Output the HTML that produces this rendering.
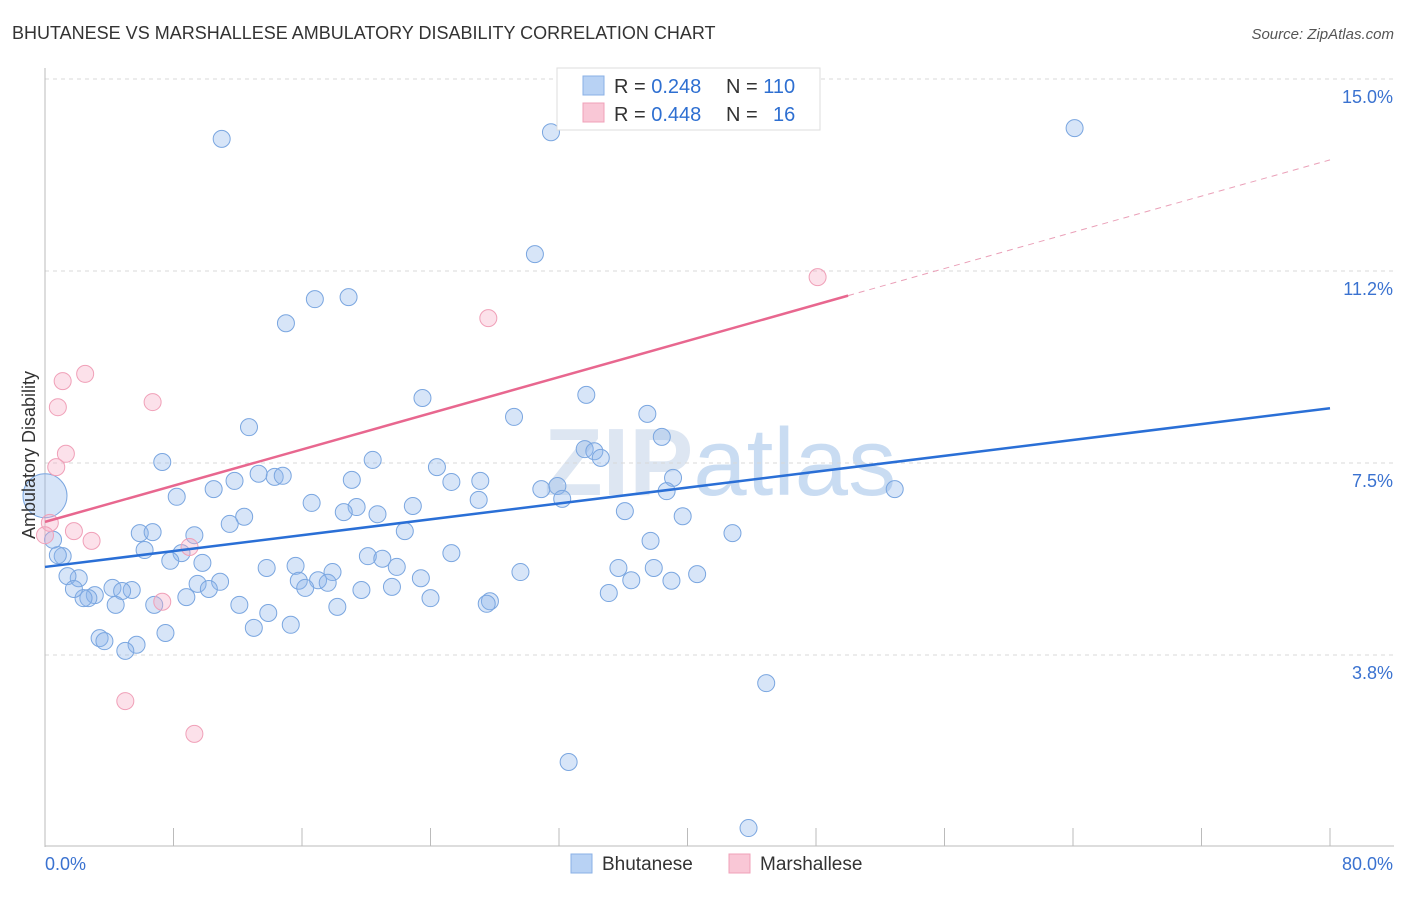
<!DOCTYPE html>
<html><head><meta charset="utf-8"><style>
body{margin:0;background:#fff;font-family:"Liberation Sans",sans-serif;}
svg text{font-family:"Liberation Sans",sans-serif;}
</style></head><body>
<svg id="chart" width="1406" height="892" xmlns="http://www.w3.org/2000/svg">
<text x="12" y="39" font-size="18" fill="#333">BHUTANESE VS MARSHALLESE AMBULATORY DISABILITY CORRELATION CHART</text>
<text x="1394" y="39" font-size="15" fill="#555" text-anchor="end" font-style="italic">Source: ZipAtlas.com</text>
<text x="720" y="495" font-size="96" fill="#dde6f2" text-anchor="middle" font-weight="bold">ZIP<tspan font-weight="normal" fill="#c9dcf2">atlas</tspan></text>
<g id="grid"></g>
<g id="axes"></g>
<g id="pts"></g>
<g id="lines"></g>
<text transform="translate(35,455) rotate(-90)" font-size="18" fill="#333" text-anchor="middle">Ambulatory Disability</text>
<g>
<rect x="557" y="68" width="263" height="62" fill="#fff" stroke="#ddd"/>
<rect x="583" y="76" width="21" height="19" fill="#b8d2f4" stroke="#8ab0e6"/>
<rect x="583" y="103" width="21" height="19" fill="#f9c7d6" stroke="#f0a0b8"/>
<text x="614" y="93" font-size="20" fill="#333">R = <tspan fill="#2e6fd1">0.248</tspan><tspan x="726">N = </tspan><tspan fill="#2e6fd1">110</tspan></text>
<text x="614" y="121" font-size="20" fill="#333">R = <tspan fill="#2e6fd1">0.448</tspan><tspan x="726">N = </tspan><tspan x="773" fill="#2e6fd1">16</tspan></text>
</g>
<g>
<rect x="571" y="854" width="21" height="19" fill="#b8d2f4" stroke="#8ab0e6"/>
<text x="602" y="870" font-size="19" fill="#333">Bhutanese</text>
<rect x="729" y="854" width="21" height="19" fill="#f9c7d6" stroke="#f0a0b8"/>
<text x="760" y="870" font-size="19" fill="#333">Marshallese</text>
</g>
</svg>
<script>
const yTicks=[3.75,7.5,11.25,15];
const yTickLabels=["3.8%","7.5%","11.2%","15.0%"];
const xTicks=[0,8,16,24,32,40,48,56,64,72,80];
const xEndLabels=["0.0%","80.0%"];
const blueX=[11.0,31.5,64.1,30.5,16.8,18.9,15.0,23.5,33.7,29.2,37.5,12.7,38.4,33.6,34.2,34.6,7.3,20.4,24.4,13.3,14.3,14.8,11.8,19.1,25.3,27.1,39.1,10.5,8.2,30.9,31.9,38.7,32.2,52.9,16.6,27.0,22.9,19.4,18.6,20.7,12.4,11.5,36.1,39.7,22.4,5.9,6.7,9.3,42.8,37.7,6.2,8.5,7.8,9.8,20.1,25.3,21.0,21.9,15.6,13.8,35.7,37.9,17.9,29.6,40.6,23.4,15.8,17.0,17.6,10.9,9.5,4.2,5.4,4.8,10.2,16.2,19.7,21.6,36.5,39.0,8.8,24.0,35.1,27.7,27.5,3.1,2.7,2.4,12.1,6.8,18.2,4.4,13.9,15.3,13.0,7.5,3.4,3.7,5.7,5.0,44.9,32.6,43.8,2.1,1.4,1.8,1.1,0.8,0.5,0];
const blueY=[13.83,13.96,14.04,11.58,10.70,10.74,10.23,8.77,8.83,8.40,8.46,8.20,8.01,7.77,7.73,7.60,7.52,7.56,7.42,7.29,7.23,7.25,7.15,7.17,7.13,7.15,7.21,6.99,6.84,6.99,7.05,6.95,6.80,6.99,6.72,6.78,6.66,6.64,6.54,6.50,6.45,6.31,6.56,6.46,6.17,6.13,6.15,6.09,6.13,5.98,5.80,5.74,5.59,5.55,5.68,5.74,5.63,5.47,5.49,5.45,5.45,5.45,5.37,5.37,5.33,5.25,5.20,5.21,5.16,5.18,5.14,5.06,5.02,5.00,5.04,5.06,5.02,5.08,5.21,5.20,4.88,4.86,4.96,4.80,4.75,4.92,4.86,4.86,4.73,4.73,4.69,4.73,4.57,4.34,4.28,4.18,4.08,4.02,3.95,3.83,3.20,1.66,0.37,5.25,5.29,5.04,5.68,5.70,6.00,6.86];
const blueSize=[];for(let i=0;i<blueX.length;i++)blueSize.push(i===blueX.length-1?22:8.5);
const pinkX=[48.1,27.6,2.5,1.1,6.7,0.8,1.3,0.7,0.3,1.8,2.9,9.0,7.3,5.0,9.3,0];
const pinkY=[11.13,10.33,9.24,9.10,8.69,8.59,7.68,7.42,6.33,6.17,5.98,5.86,4.79,2.85,2.21,6.09];
const blueTrend=[5.47,8.57];
const pinkTrend=[6.35,13.42];
const pinkSolidEnd=50;
const X=v=>45+v/80*1285, Y=v=>847-v/15*768;
const NS="http://www.w3.org/2000/svg";
function mk(tag,attrs,parent){const e=document.createElementNS(NS,tag);for(const k in attrs)e.setAttribute(k,attrs[k]);document.getElementById(parent).appendChild(e);return e;}
yTicks.forEach((t,i)=>{
 const g=mk('line',{x1:45,x2:1394,y1:Y(t),y2:Y(t),stroke:'#d8d8d8','stroke-dasharray':'4,4'},'grid');
 
 
 const l=mk('text',{x:1393,y:Y(t)+24,'font-size':18,fill:'#3a72d0','text-anchor':'end'},'axes');l.textContent=yTickLabels[i];
 
 
});
const ax=mk('line',{x1:45,x2:45,y1:68,y2:847,stroke:'#bbb'},'axes');


const bx=mk('line',{x1:45,x2:1394,y1:846,y2:846,stroke:'#bbb'},'axes');


xTicks.forEach(t=>{const k=mk('line',{x1:X(t),x2:X(t),y1:828,y2:846,stroke:'#bbb'},'axes');
 
 });
const l0=mk('text',{x:45,y:870,'font-size':18,fill:'#3a72d0'},'axes');l0.textContent=xEndLabels[0];


const l1=mk('text',{x:1393,y:870,'font-size':18,fill:'#3a72d0','text-anchor':'end'},'axes');l1.textContent=xEndLabels[1];


blueX.forEach((x,i)=>{const c=mk('circle',{cx:X(x),cy:Y(blueY[i]),r:blueSize[i],fill:'rgba(140,180,235,0.35)',stroke:'#7aa6e0','stroke-width':1},'pts');
 
 });
pinkX.forEach((x,i)=>{const c=mk('circle',{cx:X(x),cy:Y(pinkY[i]),r:8.5,fill:'rgba(245,170,195,0.35)',stroke:'#f0a0b8','stroke-width':1},'pts');
 
 });
const bl=mk('line',{x1:X(0),y1:Y(blueTrend[0]),x2:X(80),y2:Y(blueTrend[1]),stroke:'#2a6fd6','stroke-width':2.5},'lines');


const py=x=>pinkTrend[0]+(pinkTrend[1]-pinkTrend[0])*x/80;
const pl=mk('line',{x1:X(0),y1:Y(py(0)),x2:X(pinkSolidEnd),y2:Y(py(pinkSolidEnd)),stroke:'#e8678f','stroke-width':2.5},'lines');


const pd=mk('line',{x1:X(pinkSolidEnd),y1:Y(py(pinkSolidEnd)),x2:X(80),y2:Y(py(80)),stroke:'#eaa0b8','stroke-width':1,'stroke-dasharray':'6,5'},'lines');


</script>
</body></html>
